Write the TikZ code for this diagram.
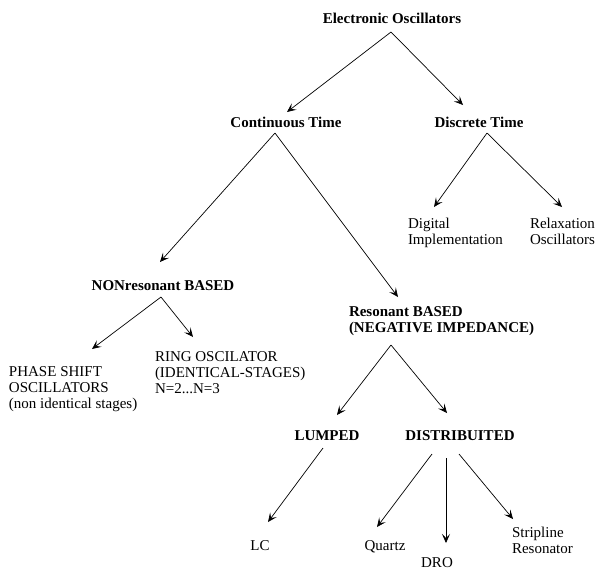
\documentclass[tikz,border=0pt]{standalone}
\usepackage{fontspec}
\setmainfont{Liberation Serif}
\usetikzlibrary{arrows.meta,calc}
\tikzset{
  lbl/.style={inner sep=0pt, outer sep=0pt, font=\fontsize{15}{16}\selectfont, align=left},
  hd/.style={lbl, font=\fontsize{15}{16}\selectfont\bfseries},
  arr/.style={line width=0.7pt, -{Stealth[length=9pt,width=8pt,inset=4pt]}}
}
\begin{document}
\begin{tikzpicture}[x=1pt,y=-1pt]
\useasboundingbox (0,0) rectangle (595,571);
% nodes
\node[hd, anchor=base] (eo) at (392,23) {Electronic Oscillators};
\node[hd, anchor=base] (ct) at (286,127) {Continuous Time};
\node[hd, anchor=base] (dt) at (479,127) {Discrete Time};
\node[lbl, anchor=north west] (dig) at (408,218) {Digital\\Implementation};
\node[lbl, anchor=north west] (rel) at (530,218) {Relaxation\\Oscillators};
\node[hd, anchor=base] (non) at (163,290) {NONresonant BASED};
\node[lbl, anchor=north west] (phase) at (9,367) {PHASE SHIFT\\OSCILLATORS\\(non identical stages)};
\node[lbl, anchor=north west] (ring) at (155,352) {RING OSCILATOR\\(IDENTICAL-STAGES)\\N=2...N=3};
\node[hd, anchor=north west] (res) at (349,307) {Resonant BASED\\(NEGATIVE IMPEDANCE)};
\node[hd, anchor=base] (lum) at (327,440) {LUMPED};
\node[hd, anchor=base] (dis) at (460,440) {DISTRIBUITED};
\node[lbl, anchor=base] (lc) at (260,550) {LC};
\node[lbl, anchor=base] (qua) at (385,550) {Quartz};
\node[lbl, anchor=base] (dro) at (437,567) {DRO};
\node[lbl, anchor=north west] (str) at (512,527) {Stripline\\Resonator};
% connectors
\draw[arr] ($(eo.base)+(-1,9)$) -- ($(ct.base)+(1,-15)$);
\draw[arr] ($(eo.base)+(-1,9)$) -- ($(dt.base)+(-16,-22)$);
\draw[arr] ($(ct.base)+(-11,6)$) -- ($(non.base)+(-3,-28)$);
\draw[arr] ($(ct.base)+(-11,6)$) -- ($(res.north west)+(49,-10)$);
\draw[arr] ($(dt.base)+(8,6)$) -- ($(dig.north west)+(26,-11)$);
\draw[arr] ($(dt.base)+(8,6)$) -- ($(rel.north west)+(32,-11)$);
\draw[arr] ($(non.base)+(-2,7)$) -- ($(phase.north west)+(83,-18)$);
\draw[arr] ($(non.base)+(-2,7)$) -- ($(ring.north west)+(38,-15)$);
\draw[arr] ($(res.north west)+(42,38)$) -- ($(lum.base)+(10,-25)$);
\draw[arr] ($(res.north west)+(42,38)$) -- ($(dis.base)+(-13,-27)$);
\draw[arr] ($(lum.base)+(-4,8)$) -- ($(lc.base)+(8,-28)$);
\draw[arr] ($(dis.base)+(-28,14)$) -- ($(qua.base)+(-8,-23)$);
\draw[arr] ($(dis.base)+(-14,18)$) -- ($(dro.base)+(9,-24)$);
\draw[arr] ($(dis.base)+(-1,14)$) -- ($(str.north west)+(1,-8)$);
\end{tikzpicture}
\end{document}
